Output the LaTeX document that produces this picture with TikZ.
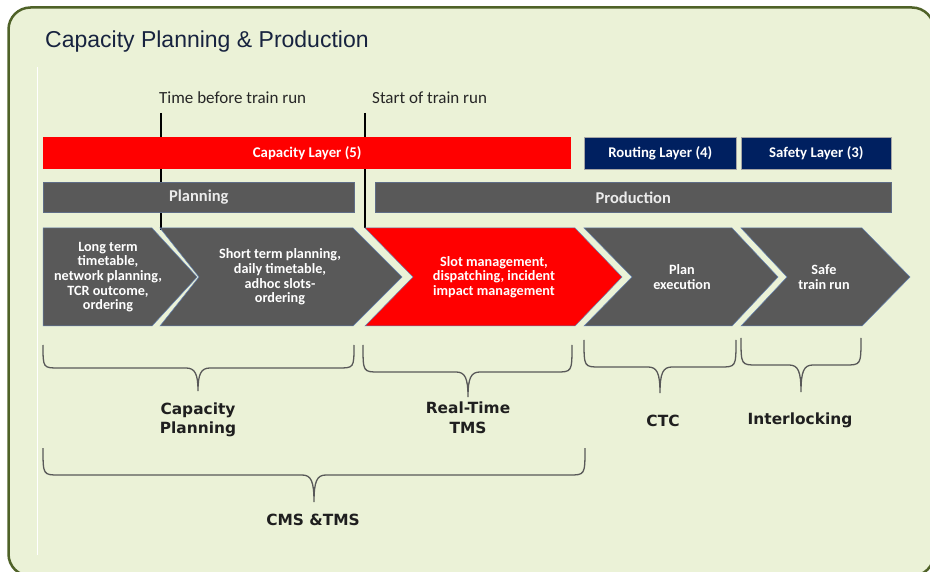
\documentclass[tikz,border=0pt]{standalone}
\usepackage{fontspec}
\setmainfont{Carlito}
\newfontfamily\titlefont{Liberation Sans}
\newfontfamily\bracefont{DejaVu Sans}
\usepackage{tikz}
\definecolor{framegreen}{HTML}{4F6228}
\definecolor{panel}{HTML}{EBF2D7}
\definecolor{capred}{HTML}{FF0000}
\definecolor{navy}{HTML}{002060}
\definecolor{slate}{HTML}{595959}
\definecolor{edgeblue}{HTML}{6482B4}
\definecolor{titleblue}{HTML}{17233F}
\tikzstyle{layer}=[anchor=north west,inner sep=0pt,minimum height=32pt,text=white,font=\bfseries\fontsize{14.8}{16}\selectfont]
\tikzstyle{phase}=[anchor=north west,inner sep=0pt,minimum height=30pt,fill=slate,draw=edgeblue!50!slate,line width=.6pt,text=white!92!black,font=\bfseries\fontsize{16.5}{18}\selectfont]
\tikzstyle{stagetext}=[align=center,inner sep=0pt,text=white,font=\bfseries\fontsize{14.2}{14.7}\selectfont]
\tikzstyle{marker}=[anchor=west,inner sep=0pt,text=black!85,font=\fontsize{17}{18}\selectfont]
\tikzstyle{curly}=[draw=slate,line width=1.3pt]
\tikzstyle{system}=[align=center,inner sep=0pt,text=black!88,font=\bracefont\bfseries\fontsize{15.4}{19.5}\selectfont]
% #1 left x, #2 notch depth, #3 top right x, #4 point x, #5 fill
\newcommand\chev[5]{%
  \filldraw[fill=#5,draw=edgeblue,line width=.5pt] (#1,228) -- (#3,228) -- (#4,277) -- (#3,326) -- (#1,326) -- (#1+#2,277) -- cycle;}
% #1 left x, #2 right x, #3 tip x, #4 top y, #5 arm y, #6 tip y
\newcommand\curly[6]{%
  \draw[curly] (#1,#4) .. controls (#1,#5) and (#1,#5) .. (#1+16,#5) -- (#3-12,#5)
    .. controls (#3-3,#5) and (#3,#5+6) .. (#3,#6)
    .. controls (#3,#5+6) and (#3+3,#5) .. (#3+12,#5) -- (#2-16,#5)
    .. controls (#2,#5) and (#2,#5) .. (#2,#4);}
\begin{document}
\begin{tikzpicture}[x=1pt,y=-1pt]
	\useasboundingbox (0,0) rectangle (930,572);
	\filldraw[fill=panel,draw=framegreen,line width=2.5pt,rounded corners=22pt] (8.5,7.5) rectangle (934,576);
	\draw[white,line width=1pt] (37,67) -- (37,555);
	\node[anchor=west,inner sep=0pt,text=titleblue,font=\titlefont\fontsize{23}{26}\selectfont] (title) at (45,42) {Capacity Planning \& Production};

	% time markers
	\coordinate (tb) at (161,113);
	\coordinate (ts) at (365,113);
	\node[marker] (before) at (159,98) {Time before train run};
	\node[marker] (start) at (372,98) {Start of train run};
	\draw[line width=2pt] (tb) -- ++(0,117);
	\draw[line width=2pt] (ts) -- ++(0,115);

	% layers
	\node[layer,fill=capred,minimum width=528pt] (caplayer) at (43,137) {Capacity Layer (5)};
	\node[layer,fill=navy,draw=gray!70,line width=.6pt,minimum width=152pt] (routing) at (584,137) {Routing Layer (4)};
	\node[layer,fill=navy,draw=gray!70,line width=.6pt,minimum width=150pt] (safety) at (741,137) {Safety Layer (3)};
	\node[phase,minimum width=311pt] (planning) at (43,182) {Planning};
	\node[phase,minimum width=516pt] (production) at (375,182) {Production};

	% process chain
	\chev{43}{0}{152}{197}{slate}
	\chev{160}{39}{353}{402}{slate}
	\chev{365}{48}{575}{622}{capred}
	\chev{584}{48}{732}{778}{slate}
	\chev{741}{46}{862}{910}{slate}
	\node[stagetext] (longterm) at (108,277) {Long term\\timetable,\\network planning,\\TCR outcome,\\ordering};
	\node[stagetext] (shortterm) at (280,277) {Short term planning,\\daily timetable,\\adhoc slots-\\ordering};
	\node[stagetext] (slot) at (494,277) {Slot management,\\dispatching, incident\\impact management};
	\node[stagetext] (execution) at (682,277) {Plan\\execution};
	\node[stagetext] (saferun) at (824,277) {Safe\\train run};

	% systems
	\curly{43}{354}{198}{345}{368}{391}
	\curly{363}{572}{468}{345}{372}{397}
	\curly{584}{736}{660}{340}{367}{393}
	\curly{741}{861}{801}{338}{365}{392}
	\curly{43}{585}{314}{448}{475}{502}
	\node[system] (capplan) at (198,420) {Capacity\\Planning};
	\node[system] (rttms) at (468,418) {Real-Time\\TMS};
	\node[system] (ctc) at (663,421) {CTC};
	\node[system] (ilock) at (800,420) {Interlocking};
	\node[system] (cmstms) at (313,520) {CMS \&TMS};
\end{tikzpicture}
\end{document}
